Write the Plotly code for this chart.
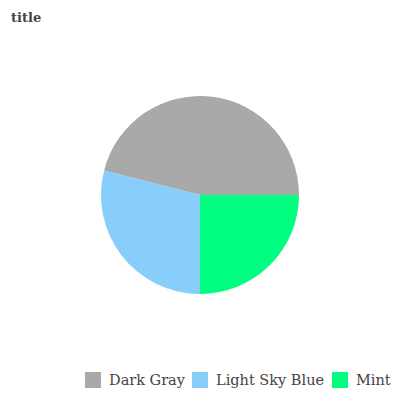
import plotly.graph_objects as go

labels = ["Dark Gray", "Light Sky Blue", "Mint"]
values = [46, 29, 25]
colors = ["#a9a9a9", "#87cefa", "#00ff80"]

# first slice starts at 3 o'clock and slices run counterclockwise
rotation = 90 - 360 * values[0] / sum(values)

W, H = 400, 400
T, B = 96, 106

def px_x(x):
    return x / W

def px_y(y):
    return (H - B - y) / (H - T - B)

fig = go.Figure(go.Pie(
    labels=labels, values=values, sort=False,
    direction="counterclockwise", rotation=rotation,
    marker=dict(colors=colors, line=dict(width=0)),
    textinfo="none", hoverinfo="label+value",
    showlegend=False,
))

# legend drawn as squares + text
legend_square_x = [85, 192, 332]
legend_y = 380
sq = 16
shapes = []
annotations = []
for lab, col, x0 in zip(labels, colors, legend_square_x):
    shapes.append(dict(type="rect", xref="paper", yref="paper",
                       x0=px_x(x0), x1=px_x(x0 + sq),
                       y0=px_y(legend_y + sq / 2), y1=px_y(legend_y - sq / 2),
                       fillcolor=col, line=dict(width=0)))
    annotations.append(dict(text=lab, xref="paper", yref="paper",
                            x=px_x(x0 + sq + 7), y=px_y(legend_y),
                            xanchor="left", yanchor="middle", showarrow=False,
                            borderpad=0,
                            font=dict(family="DejaVu Serif", size=14.5, color="#444")))

fig.update_layout(
    width=W, height=H,
    margin=dict(l=0, r=0, t=T, b=B),
    paper_bgcolor="white",
    title=dict(text="<b>title</b>", x=0.0275, xref="container", xanchor="left",
               y=1 - 17.5 / H, yref="container", yanchor="middle",
               font=dict(family="DejaVu Serif", size=13, color="#444")),
    shapes=shapes, annotations=annotations,
    showlegend=False,
)
fig.write_html("out.html", config={"displayModeBar": False},
               post_script="document.body.style.margin='0';")
